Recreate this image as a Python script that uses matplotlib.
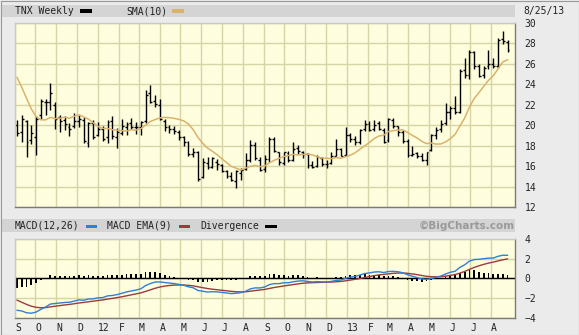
import numpy as np
import pandas as pd
import matplotlib
matplotlib.use("Agg")
import matplotlib.pyplot as plt
import matplotlib.dates as mdates
from matplotlib.patches import Rectangle

# TNX weekly bars, one per week, dated by the Sunday the week starts on
week_start = "2011-09-04"
opens = [20.0, 19.3, 20.4, 18.6, 18.8, 21.0, 22.3, 22.3, 22.0, 20.8, 20.5, 19.8, 19.9, 20.4, 20.5, 18.3, 20.2, 19.0,
         19.6, 18.8, 20.4, 18.8, 19.2, 19.8, 20.2, 19.8, 19.8, 20.4, 23.2, 22.4, 22.0, 20.4, 19.8, 19.6, 19.3, 18.8,
         18.4, 17.2, 17.4, 14.9, 16.3, 15.9, 16.4, 16.1, 15.5, 15.0, 14.5, 15.3, 15.7, 16.6, 18.1, 16.6, 15.7, 16.7,
         18.7, 17.4, 16.3, 17.3, 16.6, 17.8, 17.4, 17.2, 16.1, 16.0, 16.8, 16.2, 16.3, 17.0, 17.7, 17.1, 19.0, 18.7,
         18.4, 19.6, 20.1, 19.6, 20.2, 19.5, 18.6, 20.5, 19.9, 19.3, 18.5, 17.1, 17.3, 17.0, 16.6, 17.6, 19.0, 19.6,
         20.2, 21.3, 21.7, 21.3, 25.4, 24.9, 27.2, 25.8, 24.9, 25.8, 26.0, 25.8, 28.4, 28.1]
highs = [20.5, 21.0, 20.5, 20.0, 20.9, 22.6, 22.6, 24.1, 22.3, 21.0, 20.9, 20.2, 21.2, 21.0, 20.8, 20.3, 20.5, 20.3,
         19.9, 20.5, 20.9, 19.7, 20.6, 20.3, 20.7, 20.3, 20.4, 23.4, 23.9, 23.0, 22.6, 20.6, 20.0, 19.9, 19.5, 18.9,
         18.5, 17.8, 17.5, 16.8, 16.9, 16.9, 16.7, 16.2, 15.6, 15.4, 15.6, 15.8, 17.3, 18.6, 18.4, 16.9, 17.1, 18.8,
         18.8, 17.4, 17.4, 17.5, 18.4, 18.1, 17.5, 17.3, 16.5, 17.1, 16.9, 16.6, 17.4, 18.7, 17.8, 19.8, 19.2, 18.9,
         19.6, 20.5, 20.4, 20.5, 20.4, 19.7, 20.7, 20.7, 19.9, 19.5, 18.7, 18.0, 17.4, 17.3, 17.4, 19.1, 19.8, 20.5,
         22.2, 21.9, 22.9, 25.5, 26.6, 27.4, 27.3, 26.0, 25.8, 27.4, 26.6, 28.5, 29.2, 28.3]
lows = [18.9, 18.4, 16.9, 18.2, 17.1, 20.6, 21.0, 21.5, 19.6, 19.3, 19.5, 18.9, 19.7, 19.8, 18.3, 17.9, 18.7, 18.9,
        18.5, 18.3, 18.7, 17.8, 19.0, 19.0, 19.6, 19.1, 19.0, 20.2, 22.2, 21.8, 20.5, 19.4, 19.2, 19.1, 18.6, 18.0,
        17.0, 16.9, 14.5, 14.8, 15.7, 15.8, 15.6, 15.4, 14.8, 14.5, 13.9, 14.6, 15.6, 16.4, 16.6, 15.5, 15.4, 16.4,
        17.4, 16.1, 16.1, 16.4, 16.5, 17.2, 16.8, 15.8, 15.8, 15.9, 16.0, 15.8, 16.2, 17.0, 17.0, 17.0, 18.4, 18.1,
        18.2, 19.4, 19.4, 19.4, 19.5, 18.3, 18.4, 19.7, 18.9, 18.3, 16.9, 17.0, 16.8, 16.5, 16.1, 17.5, 18.7, 19.3,
        20.0, 20.6, 21.1, 21.2, 24.6, 24.5, 25.5, 24.7, 24.6, 25.5, 25.6, 25.6, 27.9, 27.2]
closes = [19.2, 20.6, 18.4, 19.2, 20.6, 22.4, 22.3, 23.2, 20.6, 20.4, 20.1, 19.6, 20.4, 20.6, 18.5, 20.2, 18.8, 19.6,
          18.7, 20.3, 18.9, 19.3, 19.9, 20.1, 19.8, 19.8, 20.3, 23.0, 22.3, 22.1, 20.6, 19.8, 19.6, 19.4, 18.8, 18.4,
          17.2, 17.4, 14.7, 16.4, 15.9, 16.8, 16.2, 15.5, 15.0, 14.6, 15.5, 15.6, 16.6, 18.1, 16.8, 15.6, 16.7, 18.7,
          17.5, 16.4, 17.4, 16.6, 17.7, 17.5, 17.2, 16.1, 15.9, 16.9, 16.2, 16.2, 17.0, 17.7, 17.0, 19.0, 18.7, 18.4,
          19.5, 20.1, 19.5, 20.0, 19.6, 18.4, 20.6, 19.9, 19.3, 18.5, 17.1, 17.2, 17.0, 16.6, 17.4, 19.0, 19.5, 20.1,
          21.3, 21.7, 21.3, 25.3, 24.9, 27.2, 25.8, 24.8, 25.6, 26.0, 25.8, 28.3, 28.2, 27.4]

# weekly closes of Jan-Aug 2011, only used to warm up the SMA and MACD
pre_closes = [33.2, 33.3, 34.0, 33.2, 36.4, 36.3, 35.8, 34.2, 34.9, 34.0, 32.7, 34.4, 34.5, 35.8, 34.1, 33.9, 32.9,
              31.6, 31.7, 31.5, 30.7, 29.9, 29.7, 29.4, 28.7, 32.2, 30.3, 29.1, 29.6, 28.0, 25.6, 22.4, 20.7, 21.9,
              19.9]

month_letters = ["J", "F", "M", "A", "M", "J", "J", "A", "S", "O", "N", "D"]

# indicators
n_pre = len(pre_closes)
all_close = pd.Series(pre_closes + closes)
sma = all_close.rolling(10).mean().iloc[n_pre:].values
ema12 = all_close.ewm(span=12, adjust=False).mean()
ema26 = all_close.ewm(span=26, adjust=False).mean()
macd_all = ema12 - ema26
signal_all = macd_all.ewm(span=9, adjust=False).mean()
macd = macd_all.iloc[n_pre:].values
signal = signal_all.iloc[n_pre:].values
diverg = macd - signal

dates = pd.date_range(week_start, periods=len(closes), freq="7D")
x = mdates.date2num(dates)
x0 = mdates.date2num(pd.Timestamp("2011-09-01"))
x1 = mdates.date2num(pd.Timestamp("2013-09-05"))
months = pd.date_range("2011-09-01", "2013-08-01", freq="MS")
mx = mdates.date2num(months)
mlabels = [f"{m.year % 100:02d}" if m.month == 1 else month_letters[m.month - 1] for m in months]

W, H = 579, 335
MONO = "DejaVu Sans Mono"
BG = "#ebebeb"
PLOT_BG = "#fefedf"
GRID = "#d8d5a4"
TXT = "#222222"

fig = plt.figure(figsize=(W / 100, H / 100), dpi=100, facecolor=BG)


def box(px, py, pw, ph, color, **kw):
    # rectangle in pixel coords (top-left origin)
    fig.patches.append(Rectangle((px / W, 1 - (py + ph) / H), pw / W, ph / H,
                                 transform=fig.transFigure, facecolor=color, edgecolor="none", **kw))


def label(px, py, s, **kw):
    kw.setdefault("family", MONO)
    kw.setdefault("fontsize", 7)
    kw.setdefault("color", TXT)
    fig.text(px / W, 1 - py / H, s, va="center", **kw)


# header bands
box(2, 5, 513, 12, "#d4d4d4")
box(2, 219, 513, 13, "#d4d4d4")
fig.patches.append(Rectangle((0.5 / W, 0.5 / H), (W - 1) / W, (H - 1) / H, transform=fig.transFigure,
                             facecolor="none", edgecolor="#9a9a9a", lw=0.8))

label(15, 11, "TNX Weekly")
box(80, 9.5, 12, 3.5, "black")
label(126, 11, "SMA(10)")
box(172, 9.5, 12, 3.5, "#d9b26c")
label(523, 11, "8/25/13")

label(15, 226, "MACD(12,26)")
box(86, 224.5, 11, 3.5, "#2f7fd8")
label(107, 226, "MACD EMA(9)")
box(179, 224.5, 11, 3.5, "#9c3b3b")
label(200, 226, "Divergence")
box(265, 224.5, 12, 3.5, "black")
label(515, 226, "\u00a9BigCharts.com", family="DejaVu Sans", fontweight="bold", color="#9a9a9a",
      fontsize=7.5, ha="right")


def style(ax):
    ax.set_facecolor(PLOT_BG)
    ax.set_xlim(x0, x1)
    ax.set_xticks(mx)
    ax.grid(True, color=GRID, lw=1.0)
    ax.set_axisbelow(True)
    ax.yaxis.tick_right()
    ax.tick_params(length=0, labelsize=7, labelcolor=TXT, pad=7)
    for t in ax.get_yticklabels():
        t.set_family(MONO)
    ax.spines["top"].set_color("#c8c8c8")
    ax.spines["left"].set_color("#c8c8c8")
    ax.spines["bottom"].set_color("#7a7a7a")
    ax.spines["right"].set_color("#7a7a7a")
    for s in ax.spines.values():
        s.set_linewidth(1.0)


# price panel
ax = fig.add_axes([15 / W, 1 - 207 / H, 500 / W, 184 / H])
ax.set_ylim(12, 30)
ax.set_yticks(range(12, 31, 2))
style(ax)
ax.set_xticklabels([])
for t in ax.get_yticklabels():
    t.set_family(MONO)
tick = 2.8
ax.vlines(x, lows, highs, color="black", lw=1.0)
ax.hlines(opens, x - tick, x, color="black", lw=1.0)
ax.hlines(closes, x, x + tick, color="black", lw=1.0)
ax.plot(x, sma, color="#d9b26c", lw=1.1)

# MACD panel
ax2 = fig.add_axes([15 / W, 1 - 317.5 / H, 500 / W, 78.5 / H])
ax2.set_ylim(-4, 4)
ax2.set_yticks(range(-4, 5, 2))
style(ax2)
ax2.set_xticklabels(mlabels, family=MONO, ha="left")
ax2.tick_params(axis="x", pad=4)
for t in ax2.get_yticklabels():
    t.set_family(MONO)
ax2.axhline(0, color="black", lw=1.0)
ax2.bar(x, diverg, width=2.6, color="black")
ax2.plot(x, signal, color="#9c3b3b", lw=1.0)
ax2.plot(x, macd, color="#2f7fd8", lw=1.0)

fig.savefig("out.png", dpi=100, facecolor=BG)
